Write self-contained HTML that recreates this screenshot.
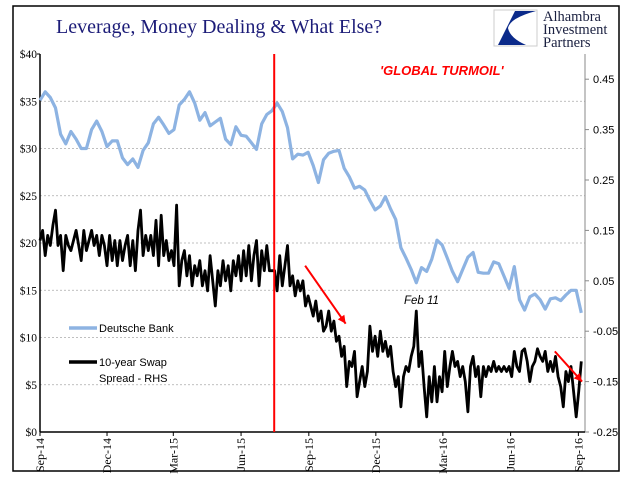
<!DOCTYPE html>
<html><head><meta charset="utf-8">
<style>
html,body{margin:0;padding:0;background:#fff;}
body{width:641px;height:481px;overflow:hidden;position:relative;}
svg{position:absolute;left:0;top:0;}
</style></head>
<body>
<svg id="chart" width="641" height="481" viewBox="0 0 641 481">
  <rect x="13" y="6" width="606" height="465" fill="#fff" stroke="#000" stroke-width="1.5"/>
  <text x="56" y="33" font-family="Liberation Serif, serif" font-size="20" fill="#1c1c78">Leverage, Money Dealing &amp; What Else?</text>
  <g>
    <rect x="494" y="10" width="43" height="36" fill="#fff" stroke="#ccc" stroke-width="1"/>
    <path d="M515,11 L536,11 Q510,18 508,28 Q510,38 526,45 L498,45 Z" fill="#0b2a8a"/>
    <text font-family="Liberation Serif, serif" font-size="14.5" fill="#1a2040">
      <tspan x="543" y="21">Alhambra</tspan><tspan x="543" y="34">Investment</tspan><tspan x="543" y="47">Partners</tspan>
    </text>
  </g>
  <g id="grid"></g>
  <g id="axes"></g>
  <g id="series"></g>
  <text x="380" y="75" font-family="Liberation Sans, sans-serif" font-size="13" font-style="italic" font-weight="bold" fill="#ff0000">'GLOBAL TURMOIL'</text>
  <text x="404" y="304" font-family="Liberation Sans, sans-serif" font-size="11.5" font-style="italic" fill="#000">Feb 11</text>
  <g>
    <line x1="69" y1="328" x2="97" y2="328" stroke="#8db3e2" stroke-width="3.5"/>
    <text x="99" y="332" font-family="Liberation Sans, sans-serif" font-size="11" fill="#000">Deutsche Bank</text>
    <line x1="69" y1="362" x2="97" y2="362" stroke="#000" stroke-width="3.5"/>
    <text font-family="Liberation Sans, sans-serif" font-size="11" fill="#000"><tspan x="99" y="366">10-year Swap</tspan><tspan x="99" y="382">Spread - RHS</tspan></text>
  </g>
</svg>
<script>
const startDate = "2014-09-01";
const dbWeekly = [35.1,36.0,35.4,34.3,31.5,30.5,31.8,31.0,30.0,30.0,32.0,32.9,31.8,30.2,30.8,30.8,29.0,28.3,28.9,28.0,29.8,30.6,32.6,33.3,32.5,31.6,32.0,34.6,35.2,36.0,34.8,33.0,33.8,32.4,32.8,33.2,31.0,30.4,32.3,31.4,31.3,30.6,29.9,32.6,33.6,34.0,34.8,33.9,32.2,28.9,29.4,29.3,29.6,28.2,26.4,
28.8,29.5,29.7,29.8,27.9,27.0,25.8,26.0,25.6,24.5,23.5,23.9,24.9,23.6,22.5,19.5,18.4,17.2,15.8,17.4,17.0,18.3,20.3,19.8,18.4,17.0,15.9,17.2,18.5,19.0,16.9,16.8,16.8,18.0,17.8,16.5,15.2,17.5,14.0,12.9,14.3,14.6,14.0,13.0,14.1,14.2,13.9,14.5,15.0,15.0,12.6];
const swapHalfWeekly = [0.13,0.15,0.10,0.14,0.12,0.16,0.19,0.12,0.14,0.07,0.14,0.12,0.11,0.13,0.15,0.12,0.09,0.15,0.11,0.13,0.15,0.12,0.14,0.10,0.14,0.12,0.08,0.14,0.09,0.13,0.08,0.13,0.09,0.12,0.14,0.08,0.13,0.07,0.15,0.19,0.10,0.14,0.11,0.14,0.10,0.17,0.08,0.18,0.10,0.13,0.09,0.11,0.08,0.20,0.04,0.09,0.11,0.06,0.10,0.04,0.08,0.06,0.09,0.04,0.07,0.03,0.10,0.05,0.00,0.07,0.04,0.09,0.05,0.08,0.03,0.09,0.06,0.10,0.05,0.11,0.06,0.12,0.05,0.10,0.13,0.04,0.11,0.07,0.12,0.07,0.07,0.07,0.03,0.10,0.04,0.08,0.12,0.04,0.06,0.02,0.05,0.03,0.05,0.00,0.02,0.00,-0.02,0.01,
-0.03,-0.01,-0.05,-0.04,-0.01,-0.05,-0.03,-0.07,-0.06,-0.10,-0.08,-0.16,-0.11,-0.12,-0.09,-0.18,-0.15,-0.12,-0.16,-0.13,-0.04,-0.09,-0.06,-0.10,-0.05,-0.09,-0.07,-0.10,-0.08,-0.13,-0.16,-0.14,-0.20,-0.14,-0.12,-0.13,-0.10,-0.08,-0.01,-0.12,-0.09,-0.16,-0.22,-0.14,-0.19,-0.12,-0.19,-0.14,-0.17,-0.09,-0.16,-0.12,-0.09,-0.12,-0.11,-0.14,-0.12,-0.15,-0.21,-0.12,-0.10,-0.14,-0.12,-0.18,-0.12,-0.14,-0.12,-0.13,-0.11,-0.13,-0.12,-0.13,-0.12,-0.13,-0.12,-0.14,-0.09,-0.12,-0.13,-0.09,-0.085,-0.11,-0.15,-0.12,-0.11,-0.085,-0.10,-0.11,-0.09,-0.13,-0.11,-0.13,-0.10,-0.14,-0.16,-0.20,-0.13,-0.15,-0.12,-0.17,-0.22,-0.17,-0.11];
const leftTicks = ["$0","$5","$10","$15","$20","$25","$30","$35","$40"];
const leftTickValues = [0,5,10,15,20,25,30,35,40];
const rightTickValues = [0.45,0.35,0.25,0.15,0.05,-0.05,-0.15,-0.25];
const rightTickLabels = ["0.45","0.35","0.25","0.15","0.05","-0.05","-0.15","-0.25"];
const xTickDates = ["2014-09-01","2014-12-01","2015-03-01","2015-06-01","2015-09-01","2015-12-01","2016-03-01","2016-06-01","2016-09-01"];
const xTickLabels = ["Sep-14","Dec-14","Mar-15","Jun-15","Sep-15","Dec-15","Mar-16","Jun-16","Sep-16"];
const turmoilDate = "2015-07-16";
const arrows = [["2015-08-27",0.08,"2015-10-21",-0.035],["2016-07-31",-0.09,"2016-09-06",-0.15]];

const NS="http://www.w3.org/2000/svg";
const X0=40, X1=585, Y0=432, Y1=54, DAYS=740;
const t0=new Date(startDate+"T00:00:00Z").getTime();
function dayOf(s){return (new Date(s+"T00:00:00Z").getTime()-t0)/86400000;}
function xDay(d){return X0+d*(X1-X0)/DAYS;}
function yL(v){return Y0-(v-0)/(40-0)*(Y0-Y1);}
function yR(v){return Y0-(v+0.25)/(0.75)*(Y0-Y1);}
function mk(tag,attrs,parent){const e=document.createElementNS(NS,tag);for(const k in attrs)e.setAttribute(k,attrs[k]);parent.appendChild(e);return e;}
const grid=document.getElementById('grid'), axes=document.getElementById('axes'), series=document.getElementById('series');

leftTickValues.forEach((v,i)=>{
  if(v>0&&v<40){const g=mk('line',{x1:X0,x2:X1,y1:yL(v),y2:yL(v),stroke:'#aaa','stroke-width':0.8,'stroke-dasharray':'2,2'},grid);
  
  }
  const t=mk('text',{x:X0-3,y:yL(v)+4,'text-anchor':'end','font-family':'Liberation Serif, serif','font-size':11.5,fill:'#000'},axes);
  t.textContent=leftTicks[i];
  
  
});
rightTickValues.forEach((v,i)=>{
  const tk=mk('line',{x1:X1,x2:X1+4,y1:yR(v),y2:yR(v),stroke:'#888','stroke-width':1},axes);
  
  
  const t=mk('text',{x:X1+8,y:yR(v)+4,'font-family':'Liberation Sans, sans-serif','font-size':11,fill:'#000'},axes);
  t.textContent=rightTickLabels[i];
  
  
});
xTickDates.forEach((s,i)=>{
  const x=xDay(dayOf(s));
  const tk=mk('line',{x1:x,x2:x,y1:Y0,y2:Y0+4,stroke:'#000','stroke-width':1},axes);
  
  
  const t=mk('text',{x:0,y:0,'text-anchor':'end',transform:`translate(${x+4},${Y0+6}) rotate(-90)`,'font-family':'Liberation Serif, serif','font-size':12,fill:'#000'},axes);
  t.textContent=xTickLabels[i];
  
  
});
let a;
a=mk('line',{x1:X0,x2:X0,y1:Y1,y2:Y0,stroke:'#000','stroke-width':1.5},axes);


a=mk('line',{x1:X1,x2:X1,y1:Y1,y2:Y0,stroke:'#888','stroke-width':1},axes);


a=mk('line',{x1:X0,x2:X1,y1:Y0,y2:Y0,stroke:'#000','stroke-width':1.5},axes);


a=mk('line',{x1:X0-3,x2:X0,y1:Y1,y2:Y1,stroke:'#000','stroke-width':1},axes);



const db=mk('polyline',{points:dbWeekly.map((v,i)=>xDay(i*7).toFixed(1)+','+yL(v).toFixed(1)).join(' '),fill:'none',stroke:'#8db3e2','stroke-width':3.2,'stroke-linejoin':'round'},series);


const sw=mk('polyline',{points:swapHalfWeekly.map((v,i)=>xDay(i*3.5).toFixed(1)+','+yR(v).toFixed(1)).join(' '),fill:'none',stroke:'#000','stroke-width':2.8,'stroke-linejoin':'round'},series);



const rx=xDay(dayOf(turmoilDate));
const rl=mk('line',{x1:rx,x2:rx,y1:Y1,y2:Y0,stroke:'#ff0000','stroke-width':2},series);



arrows.forEach(ar=>{
  const x1=xDay(dayOf(ar[0])),y1=yR(ar[1]),x2=xDay(dayOf(ar[2])),y2=yR(ar[3]);
  const g=mk('g',{},series);
  
  
  mk('line',{x1:x1,y1:y1,x2:x2,y2:y2,stroke:'#ff0000','stroke-width':2},g);
  const ang=Math.atan2(y2-y1,x2-x1),L=8,W=4;
  const bx=x2-L*Math.cos(ang),by=y2-L*Math.sin(ang);
  const px=-Math.sin(ang)*W,py=Math.cos(ang)*W;
  mk('polygon',{points:`${x2},${y2} ${bx+px},${by+py} ${bx-px},${by-py}`,fill:'#ff0000'},g);
});
</script>
</body></html>
